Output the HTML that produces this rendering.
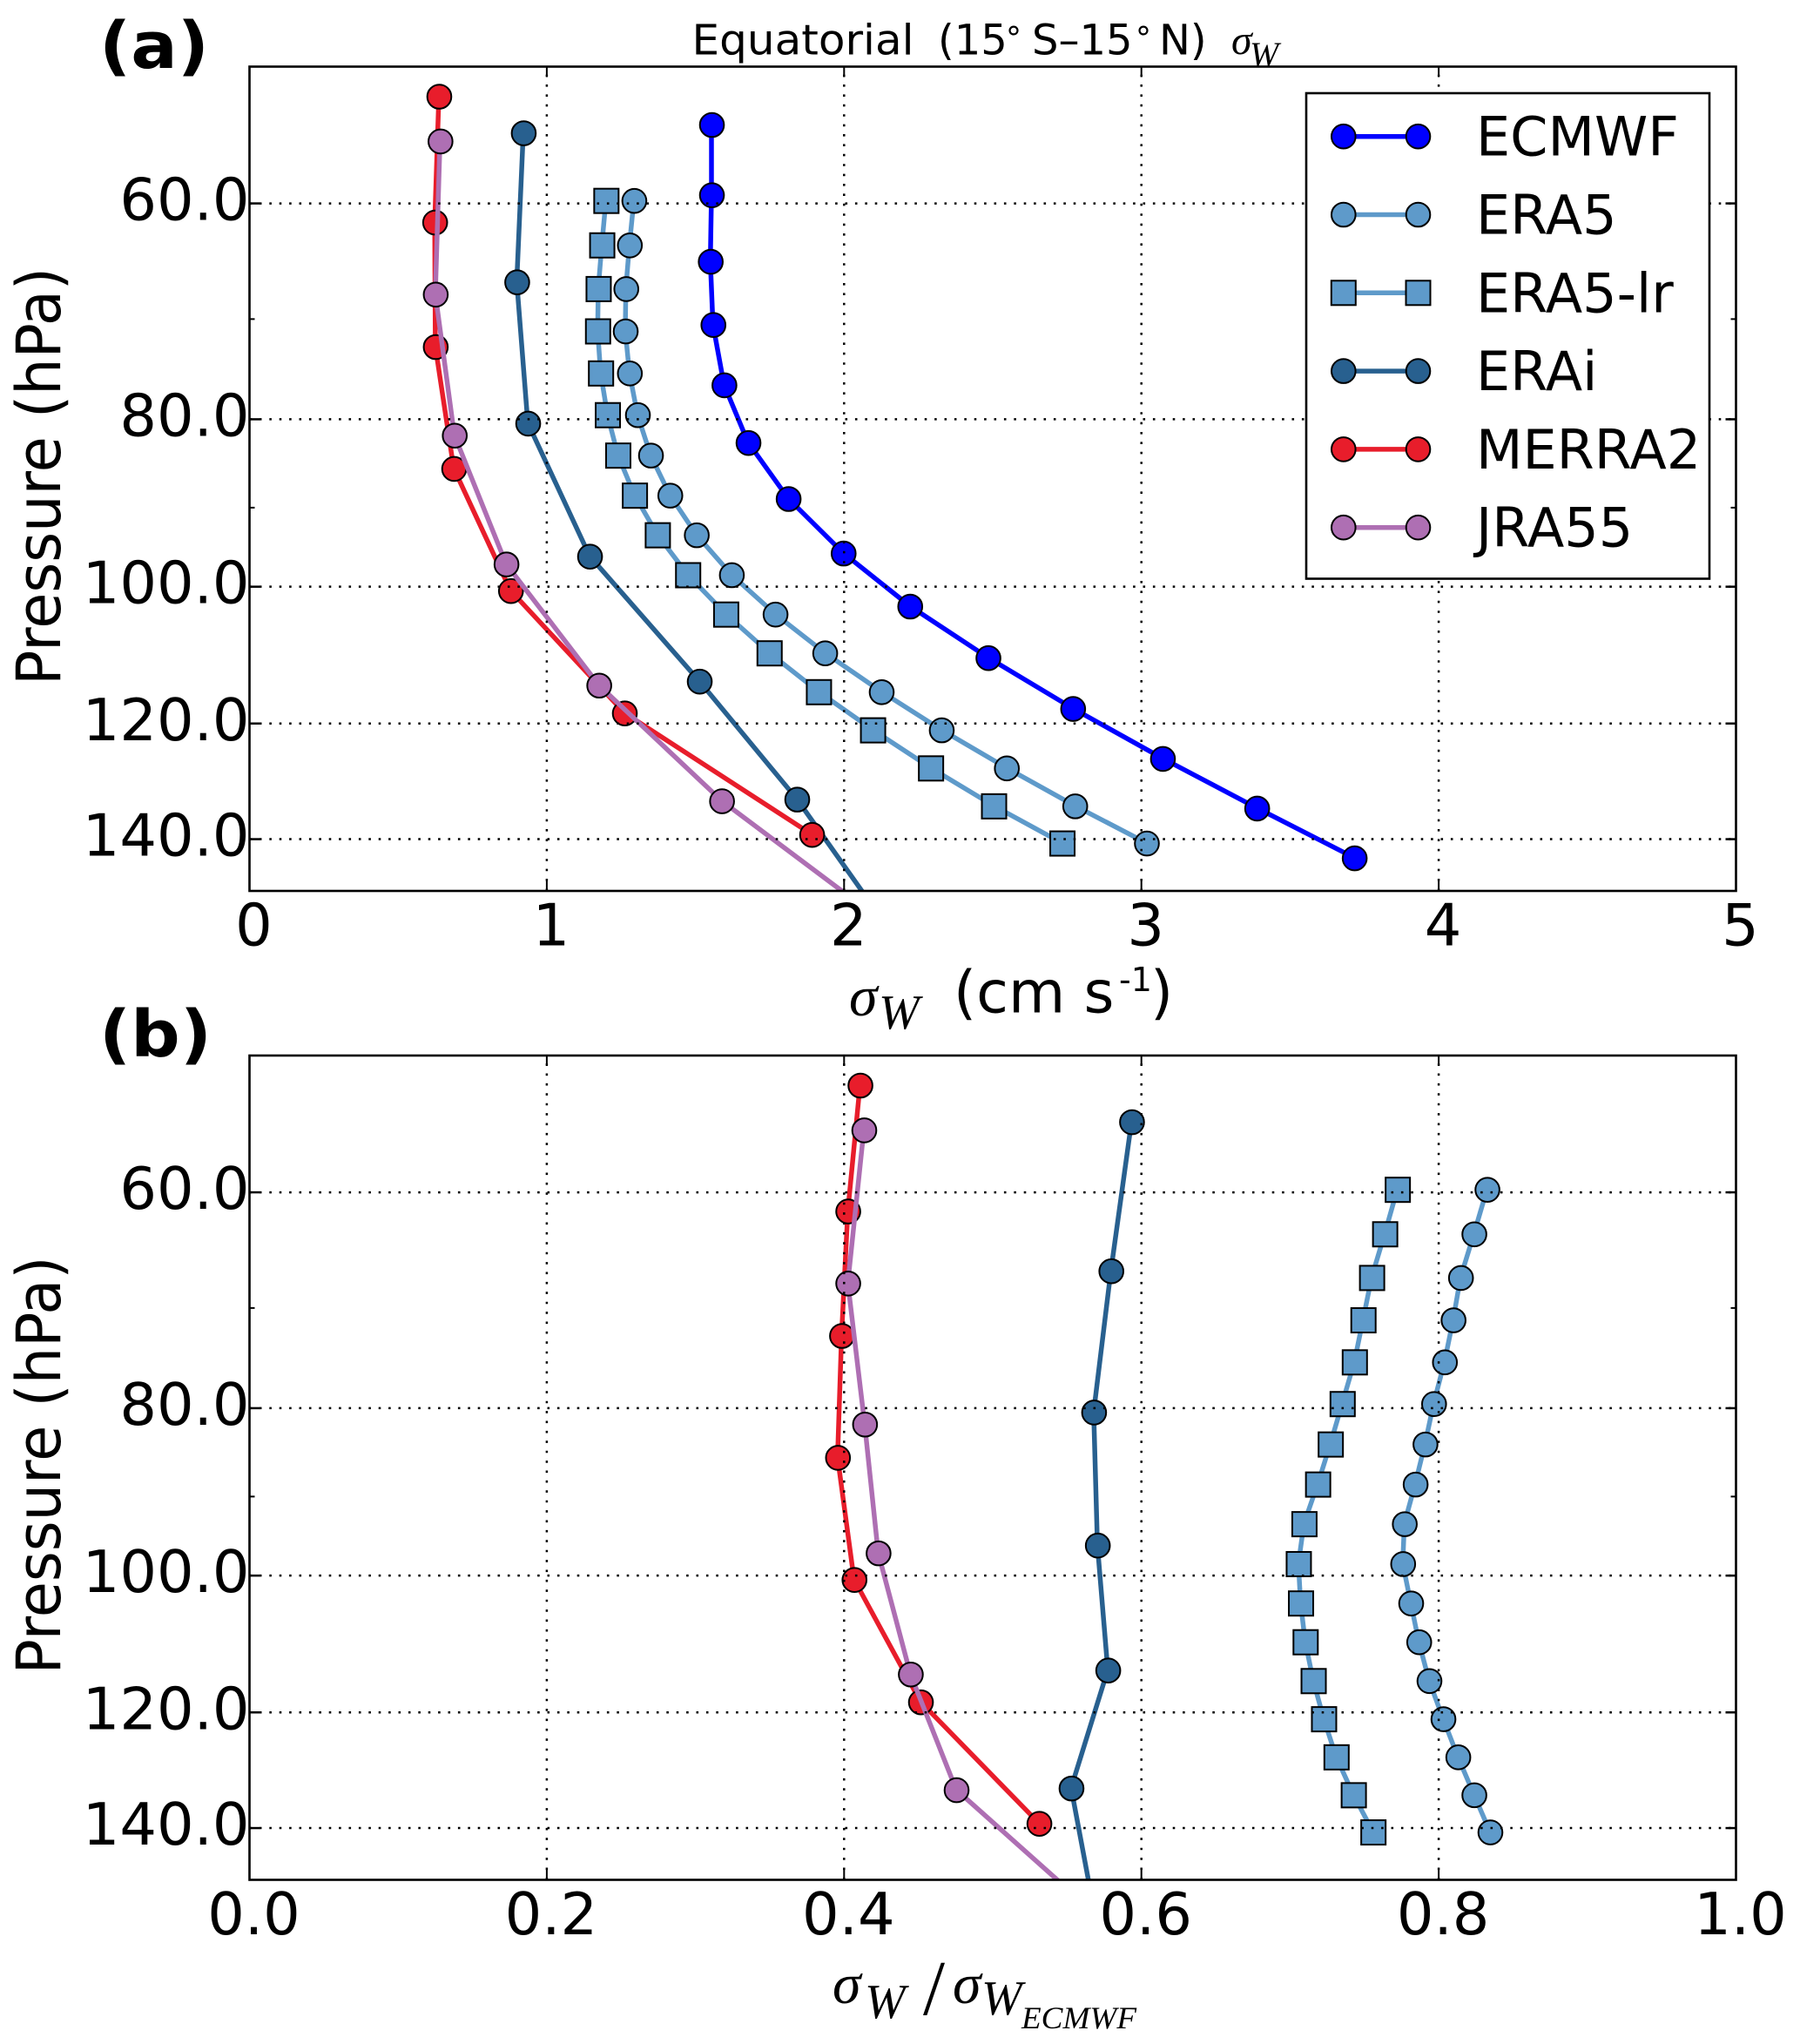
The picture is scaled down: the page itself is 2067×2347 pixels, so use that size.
<!DOCTYPE html>
<html lang="en">
<head>
<meta charset="utf-8">
<title>Equatorial sigma W profiles</title>
<style>
html,body{margin:0;padding:0;background:#fff;}
svg{display:block;}
text{font-family:"DejaVu Sans","Liberation Sans",sans-serif;fill:#000;}
.math{font-family:"Liberation Serif",serif;font-style:italic;}
.tick{font-size:67px;}
</style>
</head>
<body>
<svg id="chart" xmlns="http://www.w3.org/2000/svg" width="2067" height="2347" viewBox="0 0 2067 2347">
<defs>
<clipPath id="clip-a"><rect x="286.5" y="76.5" width="1707" height="946.5"/></clipPath>
<clipPath id="clip-b"><rect x="286.5" y="1212" width="1707" height="946.5"/></clipPath>
</defs>
<rect x="0" y="0" width="2067" height="2347" fill="#fff"/>

<text x="114" y="78" font-size="74" style="font-weight:700" textLength="126" lengthAdjust="spacingAndGlyphs">(a)</text>
<text font-size="48" y="62.5" x="794.5" textLength="255" lengthAdjust="spacingAndGlyphs">Equatorial</text>
<text font-size="48" y="62.5"><tspan x="1077">(15</tspan><tspan x="1185">S–15</tspan><tspan x="1331">N)</tspan></text>
<text font-size="36" y="56" x="1155">°</text>
<text font-size="36" y="56" x="1304">°</text>
<text class="math" x="1414" y="62" font-size="48">σ</text>
<text class="math" x="1435" y="76" font-size="40">W</text>
<text transform="translate(69,547) rotate(-90)" text-anchor="middle" font-size="70" textLength="480" lengthAdjust="spacingAndGlyphs">Pressure (hPa)</text>
<text class="math" x="975" y="1166" font-size="66">σ</text>
<text class="math" x="1009" y="1181" font-size="56">W</text>
<text x="1095" y="1162.5" font-size="67">(cm s</text>
<text x="1285" y="1138" font-size="38">-1</text>
<text x="1321" y="1162.5" font-size="67">)</text>

<text x="114" y="1213" font-size="74" style="font-weight:700" textLength="129" lengthAdjust="spacingAndGlyphs">(b)</text>
<text transform="translate(69,1682.5) rotate(-90)" text-anchor="middle" font-size="70" textLength="480" lengthAdjust="spacingAndGlyphs">Pressure (hPa)</text>
<text class="math" x="956" y="2300" font-size="66">σ</text>
<text class="math" x="993" y="2317" font-size="56">W</text>
<text class="math" x="1060" y="2313" font-size="90" style="font-style:normal">/</text>
<text class="math" x="1094" y="2300" font-size="66">σ</text>
<text class="math" x="1127" y="2313" font-size="56">W</text>
<text class="math" x="1173" y="2329" font-size="36" textLength="132" lengthAdjust="spacingAndGlyphs">ECMWF</text>

<g id="panel-a"></g>
<g id="panel-b"></g>
<g id="legend"></g>
</svg>

<script>
// ---- pressure levels (hPa) for each product ----
const pressureEcmwf = [54.0, 59.3, 64.8, 70.5, 76.4, 82.5, 88.9, 95.6, 102.6, 109.9, 117.6, 125.7, 134.3, 143.5];
const pressureEra5 = [59.75, 63.4, 67.2, 71.1, 75.2, 79.5, 83.9, 88.5, 93.3, 98.4, 103.7, 109.2, 115.0, 121.0, 127.3, 133.9, 140.7];
const pressureErai = [54.6, 66.6, 80.4, 96.0, 113.4, 132.7, 154.8];
const pressureMerra2 = [52.0, 61.5, 72.6, 85.4, 100.5, 118.3, 139.1];
const pressureJra55 = [55.2, 67.7, 81.7, 97.0, 114.0, 133.0, 155.7];

// ---- panel (a): sigma W, cm/s ----
const sigmaEcmwf = [1.554, 1.554, 1.550, 1.559, 1.596, 1.677, 1.812, 1.997, 2.221, 2.484, 2.769, 3.071, 3.388, 3.716];
const sigmaEra5 = [1.293, 1.278, 1.266, 1.264, 1.278, 1.305, 1.349, 1.414, 1.503, 1.621, 1.768, 1.935, 2.125, 2.327, 2.546, 2.776, 3.017];
const sigmaEra5lr = [1.199, 1.185, 1.173, 1.171, 1.181, 1.204, 1.239, 1.295, 1.372, 1.474, 1.602, 1.748, 1.914, 2.096, 2.291, 2.503, 2.733];
const sigmaErai = [0.921, 0.899, 0.936, 1.144, 1.513, 1.841, 2.116];
const sigmaMerra2 = [0.637, 0.623, 0.625, 0.687, 0.878, 1.261, 1.891];
const sigmaJra55 = [0.641, 0.625, 0.689, 0.863, 1.175, 1.588, 2.118];

// ---- panel (b): ratio to ECMWF ----
const ratioEra5 = [0.8325, 0.8237, 0.8147, 0.8097, 0.8039, 0.7966, 0.7908, 0.7842, 0.7769, 0.7758, 0.7812, 0.7866, 0.7935, 0.8029, 0.8129, 0.8237, 0.8345];
const ratioEra5lr = [0.7722, 0.7637, 0.7549, 0.7491, 0.7433, 0.7351, 0.7271, 0.7186, 0.7094, 0.7056, 0.7071, 0.7102, 0.7156, 0.7226, 0.7310, 0.7426, 0.7558];
const ratioErai = [0.5934, 0.5795, 0.5679, 0.5704, 0.5774, 0.5527, 0.5673];
const ratioMerra2 = [0.4107, 0.4025, 0.3983, 0.3956, 0.4067, 0.4514, 0.5311];
const ratioJra55 = [0.4133, 0.4025, 0.4138, 0.4229, 0.4446, 0.4754, 0.5645];

// ---- axes ----
const pressureTicks = [60, 80, 100, 120, 140];
const pressureTickLabels = ['60.0', '80.0', '100.0', '120.0', '140.0'];
const pressureMinorTicks = [70, 90];
const panelATicks = [0, 1, 2, 3, 4, 5];
const panelATickLabels = ['0', '1', '2', '3', '4', '5'];
const panelBTicks = [0, 0.2, 0.4, 0.6, 0.8, 1.0];
const panelBTickLabels = ['0.0', '0.2', '0.4', '0.6', '0.8', '1.0'];
const legendNames = ['ECMWF', 'ERA5', 'ERA5-lr', 'ERAi', 'MERRA2', 'JRA55'];

const SVGNS = 'http://www.w3.org/2000/svg';
const LEFT = 286.5, WIDTH = 1707, HEIGHT = 946.5;
const P_MIN = 50, P_MAX = 150;

const looks = {
  'ECMWF':   {color: '#0000ff', shape: 'circle'},
  'ERA5':    {color: '#5e9aca', shape: 'circle'},
  'ERA5-lr': {color: '#5e9aca', shape: 'square'},
  'ERAi':    {color: '#28608f', shape: 'circle'},
  'MERRA2':  {color: '#e81d2b', shape: 'circle'},
  'JRA55':   {color: '#ae6fb3', shape: 'circle'}
};

function make(tag, attrs, parent) {
  const el = document.createElementNS(SVGNS, tag);
  for (const k in attrs) el.setAttribute(k, attrs[k]);
  parent.appendChild(el);
  return el;
}
function slug(s) { return s.toLowerCase().replace(/[^a-z0-9]+/g, '-'); }

function drawMarker(parent, name, cx, cy) {
  const look = looks[name];
  let m;
  if (look.shape === 'square') {
    m = make('rect', {x: cx - 14, y: cy - 14, width: 28, height: 28, fill: look.color, stroke: '#000', 'stroke-width': 2}, parent);
  } else {
    m = make('circle', {cx: cx, cy: cy, r: 13.8, fill: look.color, stroke: '#000', 'stroke-width': 2}, parent);
  }
  
  
  return m;
}

function drawPanel(panelId, top, xMax, xTicks, xTickLabels, seriesList) {
  const root = document.getElementById('panel-' + panelId);
  const bottom = top + HEIGHT, right = LEFT + WIDTH;
  const xAxis = v => LEFT + WIDTH * v / xMax;
  const yAxis = p => top + HEIGHT * Math.log(p / P_MIN) / Math.log(P_MAX / P_MIN);

  const plot = make('g', {'clip-path': 'url(#clip-' + panelId + ')'}, root);
  seriesList.forEach(s => {
    const g = make('g', {}, plot);
    
    
    const pts = s.values.map((v, i) => xAxis(v).toFixed(1) + ',' + yAxis(s.pressures[i]).toFixed(1)).join(' ');
    const line = make('polyline', {points: pts, fill: 'none', stroke: looks[s.name].color, 'stroke-width': 5.5, 'stroke-linejoin': 'round'}, g);
    
    
    s.values.forEach((v, i) => drawMarker(g, s.name, xAxis(v) + 0.5, yAxis(s.pressures[i]) + 0.7));
  });

  const gridDash = '2.6 8.8';
  xTicks.forEach((t, i) => {
    const x = xAxis(t);
    if (t > 0 && t < xMax) {
      const gl = make('line', {x1: x, x2: x, y1: bottom, y2: top, stroke: '#000', 'stroke-width': 2.5, 'stroke-dasharray': gridDash}, root);
      
      
      const t1 = make('line', {x1: x, x2: x, y1: bottom, y2: bottom - 12, stroke: '#000', 'stroke-width': 2}, root);
      
      
      const t2 = make('line', {x1: x, x2: x, y1: top, y2: top + 12, stroke: '#000', 'stroke-width': 2}, root);
      
      
    }
    const lbl = make('text', {x: x + 5, y: bottom + 62.4, 'text-anchor': 'middle', class: 'tick'}, root);
    
    
    lbl.textContent = xTickLabels[i];
  });

  pressureTicks.forEach((p, i) => {
    const y = yAxis(p);
    const gl = make('line', {x1: LEFT, x2: right, y1: y, y2: y, stroke: '#000', 'stroke-width': 2.5, 'stroke-dasharray': gridDash}, root);
    
    
    const t1 = make('line', {x1: LEFT, x2: LEFT + 12, y1: y, y2: y, stroke: '#000', 'stroke-width': 2.5}, root);
    
    
    const t2 = make('line', {x1: right, x2: right - 12, y1: y, y2: y, stroke: '#000', 'stroke-width': 2.5}, root);
    
    
    const lbl = make('text', {x: LEFT, y: y + 19, 'text-anchor': 'end', class: 'tick'}, root);
    
    
    lbl.textContent = pressureTickLabels[i];
  });

  pressureMinorTicks.forEach(p => {
    const y = yAxis(p);
    const t1 = make('line', {x1: LEFT, x2: LEFT + 6, y1: y, y2: y, stroke: '#000', 'stroke-width': 2}, root);
    
    
    const t2 = make('line', {x1: right, x2: right - 6, y1: y, y2: y, stroke: '#000', 'stroke-width': 2}, root);
    
    
  });

  const frame = make('rect', {x: LEFT, y: top, width: WIDTH, height: HEIGHT, fill: 'none', stroke: '#000', 'stroke-width': 2.6}, root);
  
  
}

function drawLegend() {
  const root = document.getElementById('legend');
  const box = make('rect', {x: 1500, y: 107, width: 463, height: 557.5, fill: '#fff', stroke: '#000', 'stroke-width': 2.6}, root);
  
  
  legendNames.forEach((name, i) => {
    const y = 156.7 + i * 89.8;
    const g = make('g', {}, root);
    
    
    const ln = make('line', {x1: 1542.8, x2: 1628.5, y1: y, y2: y, stroke: looks[name].color, 'stroke-width': 5.5}, g);
    
    
    drawMarker(g, name, 1542.8, y);
    drawMarker(g, name, 1628.5, y);
    const txt = make('text', {x: 1695, y: y + 22, 'font-size': 62}, g);
    
    
    txt.textContent = name;
  });
}

drawPanel('a', 76.5, 5, panelATicks, panelATickLabels, [
  {name: 'ECMWF', pressures: pressureEcmwf, values: sigmaEcmwf},
  {name: 'ERA5', pressures: pressureEra5, values: sigmaEra5},
  {name: 'ERA5-lr', pressures: pressureEra5, values: sigmaEra5lr},
  {name: 'ERAi', pressures: pressureErai, values: sigmaErai},
  {name: 'MERRA2', pressures: pressureMerra2, values: sigmaMerra2},
  {name: 'JRA55', pressures: pressureJra55, values: sigmaJra55}
]);
drawPanel('b', 1212, 1, panelBTicks, panelBTickLabels, [
  {name: 'ERA5', pressures: pressureEra5, values: ratioEra5},
  {name: 'ERA5-lr', pressures: pressureEra5, values: ratioEra5lr},
  {name: 'ERAi', pressures: pressureErai, values: ratioErai},
  {name: 'MERRA2', pressures: pressureMerra2, values: ratioMerra2},
  {name: 'JRA55', pressures: pressureJra55, values: ratioJra55}
]);
drawLegend();
</script>
</body>
</html>
